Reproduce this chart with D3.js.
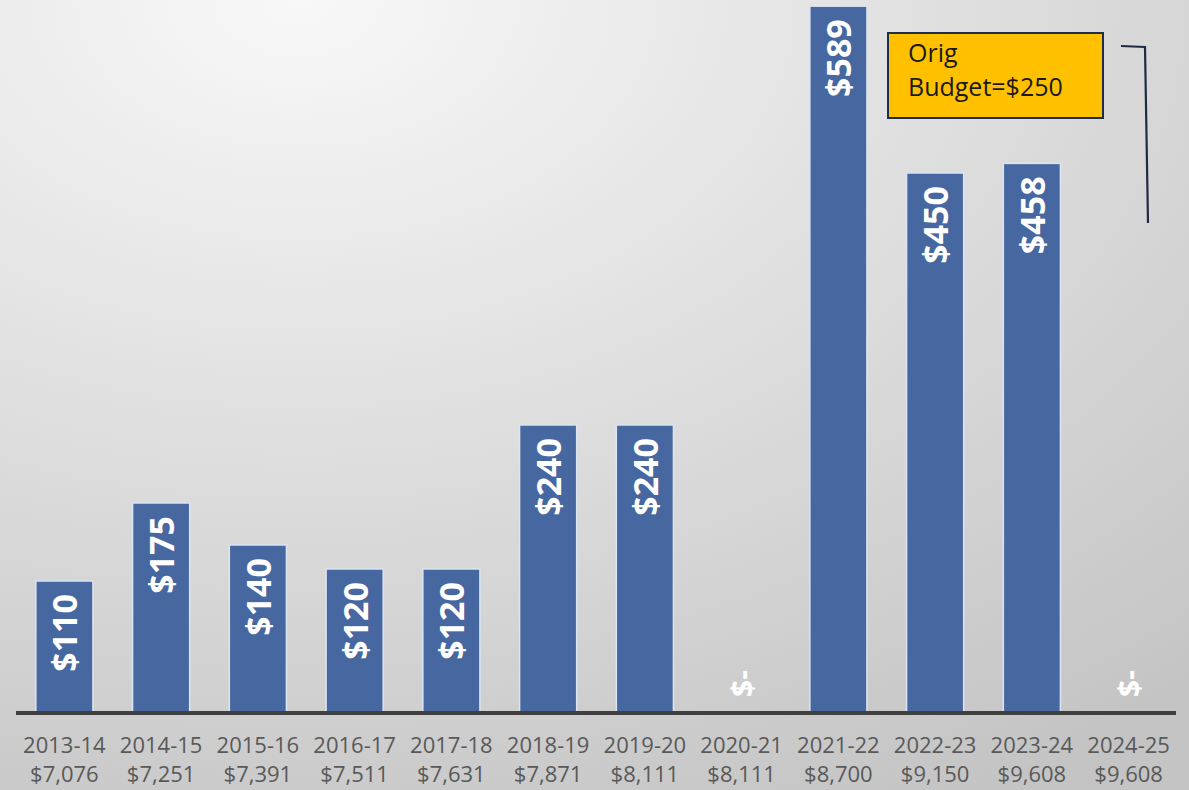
<!DOCTYPE html>
<html>
<head>
<meta charset="utf-8">
<script src="https://cdn.jsdelivr.net/npm/d3@7"></script>
<style>
html,body{margin:0;padding:0;background:#fff;}
svg{display:block;}
</style>
</head>
<body>
<svg id="chart" width="1189" height="790"></svg>
<script>
const categories = ["2013-14","2014-15","2015-16","2016-17","2017-18","2018-19","2019-20","2020-21","2021-22","2022-23","2023-24","2024-25"];
const totals = ["$7,076","$7,251","$7,391","$7,511","$7,631","$7,871","$8,111","$8,111","$8,700","$9,150","$9,608","$9,608"];
const values = [110,175,140,120,120,240,240,0,589,450,458,0];
const noteLines = ["Orig","Budget=$250"];

const W = 1189, H = 790;
const svg = d3.select("#chart");
const defs = svg.append("defs");
const grad = defs.append("radialGradient").attr("id","bg")
  .attr("cx","0.25").attr("cy","0").attr("r","1.15").attr("fx","0.25").attr("fy","0");
grad.append("stop").attr("offset","0%").attr("stop-color","#f8f8f8");
grad.append("stop").attr("offset","100%").attr("stop-color","#c4c4c4");
svg.append("rect").attr("width",W).attr("height",H).attr("fill","url(#bg)");

const baseY = 713;
const x = d3.scaleBand().domain(categories).range([16,1177]).paddingInner(0.41).paddingOuter(0.205);
const y = d3.scaleLinear().domain([0,590]).range([baseY,5]);

const font = "'Open Sans', 'Noto Sans', sans-serif";

svg.append("g").selectAll("rect").data(values).join("rect")
  .attr("x",(d,i)=>x(categories[i]))
  .attr("width",x.bandwidth())
  .attr("y",d=>y(d))
  .attr("height",d=>y(0)-y(d))
  .attr("fill","#46679f")
  .attr("stroke","#dbe4f1")
  .attr("stroke-width",1.5)
  .attr("display",d=>d>0?null:"none");

// value labels
svg.append("g").selectAll("text").data(values).join("text")
  .attr("transform",(d,i)=>{
    const cx = x(categories[i]) + x.bandwidth()/2;
    return d>0 ? `translate(${cx},${y(d)+13}) rotate(-90)` : `translate(${cx},${baseY-16}) rotate(-90)`;
  })
  .attr("text-anchor",d=>d>0?"end":"start")
  .attr("dominant-baseline","central")
  .attr("font-family",font)
  .attr("font-weight","bold")
  .attr("font-size",d=>d>0?"34px":"30px")
  .attr("fill","#ffffff")
  .text(d=>d>0?"$"+d:"$-");

// axis line
const axis = svg.append("g").attr("transform",`translate(0,${baseY})`)
  .call(d3.axisBottom(x).tickSize(0).tickFormat(""));
axis.select(".domain").attr("stroke","#3f3f3f").attr("stroke-width",4).attr("d","M16,0H1176");

// category labels (two lines)
const lab = svg.append("g").selectAll("text").data(categories).join("text")
  .attr("x",d=>x(d)+x.bandwidth()/2)
  .attr("text-anchor","middle")
  .attr("font-family",font)
  .attr("font-size","22px")
  .attr("fill","#595959");
lab.append("tspan").attr("x",d=>x(d)+x.bandwidth()/2).attr("y",753).text(d=>d);
lab.append("tspan").attr("x",d=>x(d)+x.bandwidth()/2).attr("y",782).text((d,i)=>totals[i]);

// annotation box
const note = svg.append("g");
note.append("rect").attr("x",888).attr("y",33).attr("width",215).attr("height",85)
  .attr("fill","#ffc000").attr("stroke","#1f2d4d").attr("stroke-width",2);
note.selectAll("text").data(noteLines).join("text")
  .attr("x",908).attr("y",(d,i)=>62+i*34)
  .attr("font-family",font).attr("font-size","25px").attr("fill","#1a1a1a")
  .text(d=>d);
svg.append("path").attr("d","M1121,46 L1145,47 L1148,223")
  .attr("fill","none").attr("stroke","#1f2a44").attr("stroke-width",2.2);
</script>
</body>
</html>
